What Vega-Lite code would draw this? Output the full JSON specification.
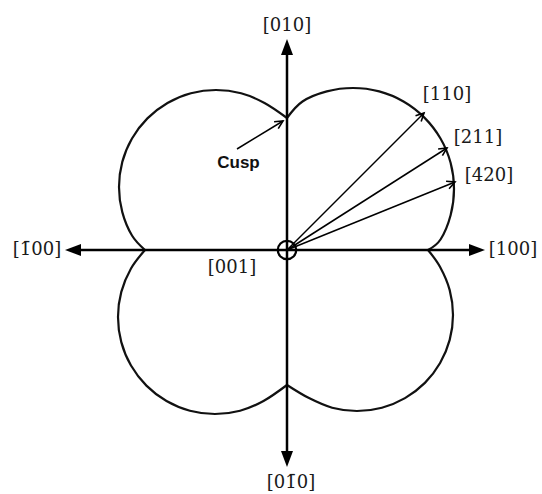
{
  "$schema": "https://vega.github.io/schema/vega-lite/v6.json",
  "width": 542,
  "height": 494,
  "autosize": "none",
  "padding": 0,
  "background": "white",
  "config": {"view": {"stroke": null}},
  "datasets": {
    "lobes": [
      {"lobe": "I", "i": 0, "x": 141, "y": 0},
      {"lobe": "I", "i": 1, "x": 153.5, "y": 10.5},
      {"lobe": "I", "i": 2, "x": 163.6, "y": 34.8},
      {"lobe": "I", "i": 3, "x": 167, "y": 61},
      {"lobe": "I", "i": 4, "x": 163.6, "y": 87.2},
      {"lobe": "I", "i": 5, "x": 153.5, "y": 111.5},
      {"lobe": "I", "i": 6, "x": 137.4, "y": 132.4},
      {"lobe": "I", "i": 7, "x": 116.5, "y": 148.5},
      {"lobe": "I", "i": 8, "x": 92.2, "y": 158.6},
      {"lobe": "I", "i": 9, "x": 66, "y": 162},
      {"lobe": "I", "i": 10, "x": 39.8, "y": 158.6},
      {"lobe": "I", "i": 11, "x": 15.5, "y": 148.5},
      {"lobe": "I", "i": 12, "x": 0, "y": 132},
      {"lobe": "II", "i": 0, "x": 0, "y": 132},
      {"lobe": "II", "i": 1, "x": -22.5, "y": 147},
      {"lobe": "II", "i": 2, "x": -45.9, "y": 156.7},
      {"lobe": "II", "i": 3, "x": -71, "y": 160},
      {"lobe": "II", "i": 4, "x": -96.1, "y": 156.7},
      {"lobe": "II", "i": 5, "x": -119.5, "y": 147},
      {"lobe": "II", "i": 6, "x": -139.6, "y": 131.6},
      {"lobe": "II", "i": 7, "x": -155, "y": 111.5},
      {"lobe": "II", "i": 8, "x": -164.7, "y": 88.1},
      {"lobe": "II", "i": 9, "x": -168, "y": 63},
      {"lobe": "II", "i": 10, "x": -164.7, "y": 37.9},
      {"lobe": "II", "i": 11, "x": -155, "y": 14.5},
      {"lobe": "II", "i": 12, "x": -142, "y": 0},
      {"lobe": "III", "i": 0, "x": -142, "y": 0},
      {"lobe": "III", "i": 1, "x": -156, "y": -18.5},
      {"lobe": "III", "i": 2, "x": -165.7, "y": -41.9},
      {"lobe": "III", "i": 3, "x": -169, "y": -67},
      {"lobe": "III", "i": 4, "x": -165.7, "y": -92.1},
      {"lobe": "III", "i": 5, "x": -156, "y": -115.5},
      {"lobe": "III", "i": 6, "x": -140.6, "y": -135.6},
      {"lobe": "III", "i": 7, "x": -120.5, "y": -151},
      {"lobe": "III", "i": 8, "x": -97.1, "y": -160.7},
      {"lobe": "III", "i": 9, "x": -72, "y": -164},
      {"lobe": "III", "i": 10, "x": -46.9, "y": -160.7},
      {"lobe": "III", "i": 11, "x": -23.5, "y": -151},
      {"lobe": "III", "i": 12, "x": 0, "y": -135},
      {"lobe": "IV", "i": 0, "x": 0, "y": -135},
      {"lobe": "IV", "i": 1, "x": 22, "y": -148.1},
      {"lobe": "IV", "i": 2, "x": 45.1, "y": -157.7},
      {"lobe": "IV", "i": 3, "x": 70, "y": -161},
      {"lobe": "IV", "i": 4, "x": 94.9, "y": -157.7},
      {"lobe": "IV", "i": 5, "x": 118, "y": -148.1},
      {"lobe": "IV", "i": 6, "x": 137.9, "y": -132.9},
      {"lobe": "IV", "i": 7, "x": 153.1, "y": -113},
      {"lobe": "IV", "i": 8, "x": 162.7, "y": -89.9},
      {"lobe": "IV", "i": 9, "x": 166, "y": -65},
      {"lobe": "IV", "i": 10, "x": 162.7, "y": -40.1},
      {"lobe": "IV", "i": 11, "x": 153.1, "y": -17},
      {"lobe": "IV", "i": 12, "x": 141, "y": 0}
    ],
    "axes": [
      {"axis": "h", "x": -214, "y": 0, "x2": 190, "y2": 0},
      {"axis": "v", "x": 0, "y": -209, "x2": 0, "y2": 203}
    ],
    "axisHeads": [
      {"dir": "right", "x": 198, "y": 0},
      {"dir": "left", "x": -222, "y": 0},
      {"dir": "up", "x": 0, "y": 211},
      {"dir": "down", "x": 0, "y": -217}
    ],
    "vectors": [
      {"name": "[110]", "x": 0, "y": 0, "x2": 137, "y2": 137},
      {"name": "[211]", "x": 0, "y": 0, "x2": 160, "y2": 102},
      {"name": "[420]", "x": 0, "y": 0, "x2": 168, "y2": 68},
      {"name": "Cusp", "x": -50, "y": 101, "x2": -4, "y2": 129}
    ],
    "vectorHeads": [
      {"name": "[110]", "x": 137, "y": 137},
      {"name": "[211]", "x": 160, "y": 102},
      {"name": "[420]", "x": 168, "y": 68},
      {"name": "Cusp", "x": -4, "y": 129}
    ],
    "origin": [{"x": 0, "y": 0}],
    "labels": [
      {"label": "[010]", "x": 0, "y": 224},
      {"label": "[1\u030400]", "x": -250, "y": 0},
      {"label": "[100]", "x": 226, "y": 0},
      {"label": "[01\u03040]", "x": 4, "y": -233},
      {"label": "[001]", "x": -55, "y": -18},
      {"label": "[110]", "x": 160, "y": 155},
      {"label": "[211]", "x": 191, "y": 112},
      {"label": "[420]", "x": 202, "y": 74}
    ],
    "notes": [{"label": "Cusp", "x": -48.5, "y": 87}]
  },
  "encoding": {
    "x": {"field": "x", "type": "quantitative", "scale": {"domain": [-287, 255], "nice": false, "zero": false}, "axis": null},
    "y": {"field": "y", "type": "quantitative", "scale": {"domain": [-244, 250], "nice": false, "zero": false}, "axis": null}
  },
  "layer": [
    {
      "data": {"name": "lobes"},
      "mark": {"type": "line", "interpolate": "cardinal", "stroke": "#111111", "strokeWidth": 2.2},
      "encoding": {"detail": {"field": "lobe"}, "order": {"field": "i", "type": "quantitative"}}
    },
    {
      "data": {"name": "axes"},
      "mark": {"type": "rule", "stroke": "#000000", "strokeWidth": 2.5},
      "encoding": {"x2": {"field": "x2"}, "y2": {"field": "y2"}}
    },
    {
      "data": {"name": "axisHeads"},
      "mark": {"type": "point", "filled": true, "fill": "#000000", "opacity": 1, "size": 256, "strokeWidth": 0},
      "encoding": {
        "shape": {"field": "dir", "type": "nominal", "legend": null,
          "scale": {"domain": ["right", "left", "up", "down"],
            "range": ["M0,0L-2,-0.75L-2,0.75Z", "M0,0L2,-0.75L2,0.75Z", "M0,0L-0.75,2L0.75,2Z", "M0,0L-0.75,-2L0.75,-2Z"]}}
      }
    },
    {
      "data": {"name": "vectors"},
      "mark": {"type": "rule", "stroke": "#000000", "strokeWidth": 1.5},
      "encoding": {"x2": {"field": "x2"}, "y2": {"field": "y2"}}
    },
    {
      "data": {"name": "vectorHeads"},
      "mark": {"type": "point", "filled": false, "stroke": "#000000", "opacity": 1, "size": 64, "strokeWidth": 1.6, "strokeJoin": "miter"},
      "encoding": {
        "shape": {"field": "name", "type": "nominal", "legend": null,
          "scale": {"domain": ["[110]", "[211]", "[420]", "Cusp"],
            "range": ["M-0.707,2.121L0,0L-2.121,0.707", "M-1.149,1.917L0,0L-2.223,0.231", "M-1.479,1.677L0,0L-2.229,-0.177", "M-1.188,1.894L0,0L-2.228,0.186"]}}
      }
    },
    {
      "data": {"name": "origin"},
      "mark": {"type": "point", "shape": "circle", "filled": false, "stroke": "#000000", "opacity": 1, "size": 340, "strokeWidth": 2.2}
    },
    {
      "data": {"name": "labels"},
      "mark": {"type": "text", "font": "DejaVu Serif", "fontSize": 18, "fill": "#1a1a1a", "align": "center", "baseline": "middle"},
      "encoding": {"text": {"field": "label"}}
    },
    {
      "data": {"name": "notes"},
      "mark": {"type": "text", "font": "Liberation Sans", "fontWeight": "bold", "fontSize": 17, "fill": "#111111", "align": "center", "baseline": "middle"},
      "encoding": {"text": {"field": "label"}}
    }
  ],
  "resolve": {"scale": {"shape": "independent"}}
}
